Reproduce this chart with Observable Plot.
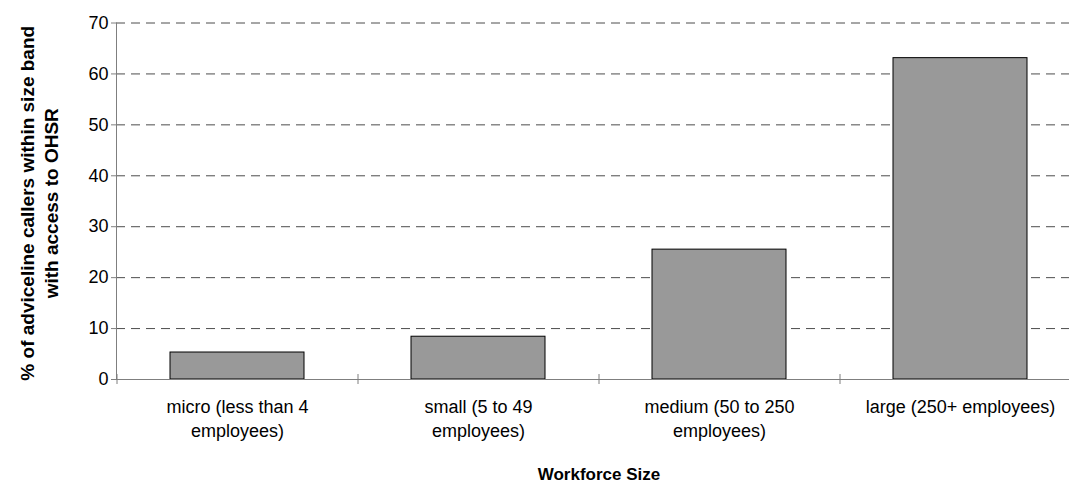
<!DOCTYPE html>
<html>
<head>
<meta charset="utf-8">
<script src="https://cdn.jsdelivr.net/npm/d3@7"></script>
<script src="https://cdn.jsdelivr.net/npm/@observablehq/plot@0.6"></script>
<style>
  html, body { margin: 0; padding: 0; background: #fff; }
  #chart svg { display: block; }
</style>
</head>
<body>
<div id="chart"></div>
<script>
// Workforce size bands (x categories)
const sizeBands = [
  "micro (less than 4 employees)",
  "small (5 to 49 employees)",
  "medium (50 to 250 employees)",
  "large (250+ employees)"
];
// Category labels as drawn under the axis (line-broken)
const bandLabels = [
  "micro (less than 4\nemployees)",
  "small (5 to 49\nemployees)",
  "medium (50 to 250\nemployees)",
  "large (250+ employees)"
];
// % of adviceline callers within each size band with access to OHSR
const pctWithOHSR = [5.3, 8.4, 25.5, 63.1];
// Y axis ticks
const yTicks = [0, 10, 20, 30, 40, 50, 60, 70];
const yTitle = "% of adviceline callers within size band\nwith access to OHSR";
const xTitle = "Workforce Size";

const rows = sizeBands.map((band, i) => ({band, label: bandLabels[i], pct: pctWithOHSR[i]}));

const W = 1069, H = 484;
const xRange = [116, 1080];
const step = (xRange[1] - xRange[0]) / sizeBands.length;
const font = "'Liberation Sans', Arial, Helvetica, sans-serif";

const chart = Plot.plot({
  width: W,
  height: H,
  marginLeft: 116,
  marginRight: 0,
  marginTop: 22.5,
  marginBottom: 105,
  style: {fontFamily: font, background: "#fff", color: "#000", overflow: "hidden"},
  x: {type: "band", domain: sizeBands, range: xRange, paddingInner: 0.444, paddingOuter: 0.222, align: 0.5, axis: null},
  y: {domain: [0, 70]},
  marks: [
    // dashed horizontal gridlines
    Plot.ruleY(yTicks.filter(d => d > 0), {stroke: "#4d4d4d", strokeWidth: 1, strokeDasharray: "9,6"}),
    // bars
    Plot.barY(rows, {x: "band", y: "pct", fill: "#999999", stroke: "#000", strokeWidth: 1}),
    // axis lines
    Plot.frame({anchor: "left", stroke: "#7f7f7f", strokeWidth: 1}),
    Plot.frame({anchor: "bottom", stroke: "#7f7f7f", strokeWidth: 1}),
    // y axis ticks and labels
    Plot.axisY({ticks: yTicks, tickSize: 5, tickPadding: 3, fontSize: 18, stroke: "#7f7f7f", label: null}),
    // category boundary ticks crossing the x axis
    Plot.ruleX(sizeBands, {x: d => d, dx: -step / 2, y1: 0, y2: 0, insetTop: -5, insetBottom: -5, stroke: "#7f7f7f"}),
    // category labels
    Plot.text(rows, {x: "band", y: 0, text: "label", lineAnchor: "top", dy: 17, fontSize: 18,
      lineHeight: 1.3, fill: "#000", letterSpacing: "1.5px"}),
    // y axis title
    Plot.text([yTitle], {frameAnchor: "left", dx: -78, dy: 2, rotate: -90, textAnchor: "middle", lineAnchor: "middle",
      fontSize: 19, fontWeight: "bold", lineHeight: 1.26, fill: "#000"}),
    // x axis title
    Plot.text([xTitle], {frameAnchor: "bottom", dx: 6, dy: 100, fontSize: 17, fontWeight: "bold", fill: "#000"})
  ]
});

document.getElementById("chart").appendChild(chart);
</script>
</body>
</html>
